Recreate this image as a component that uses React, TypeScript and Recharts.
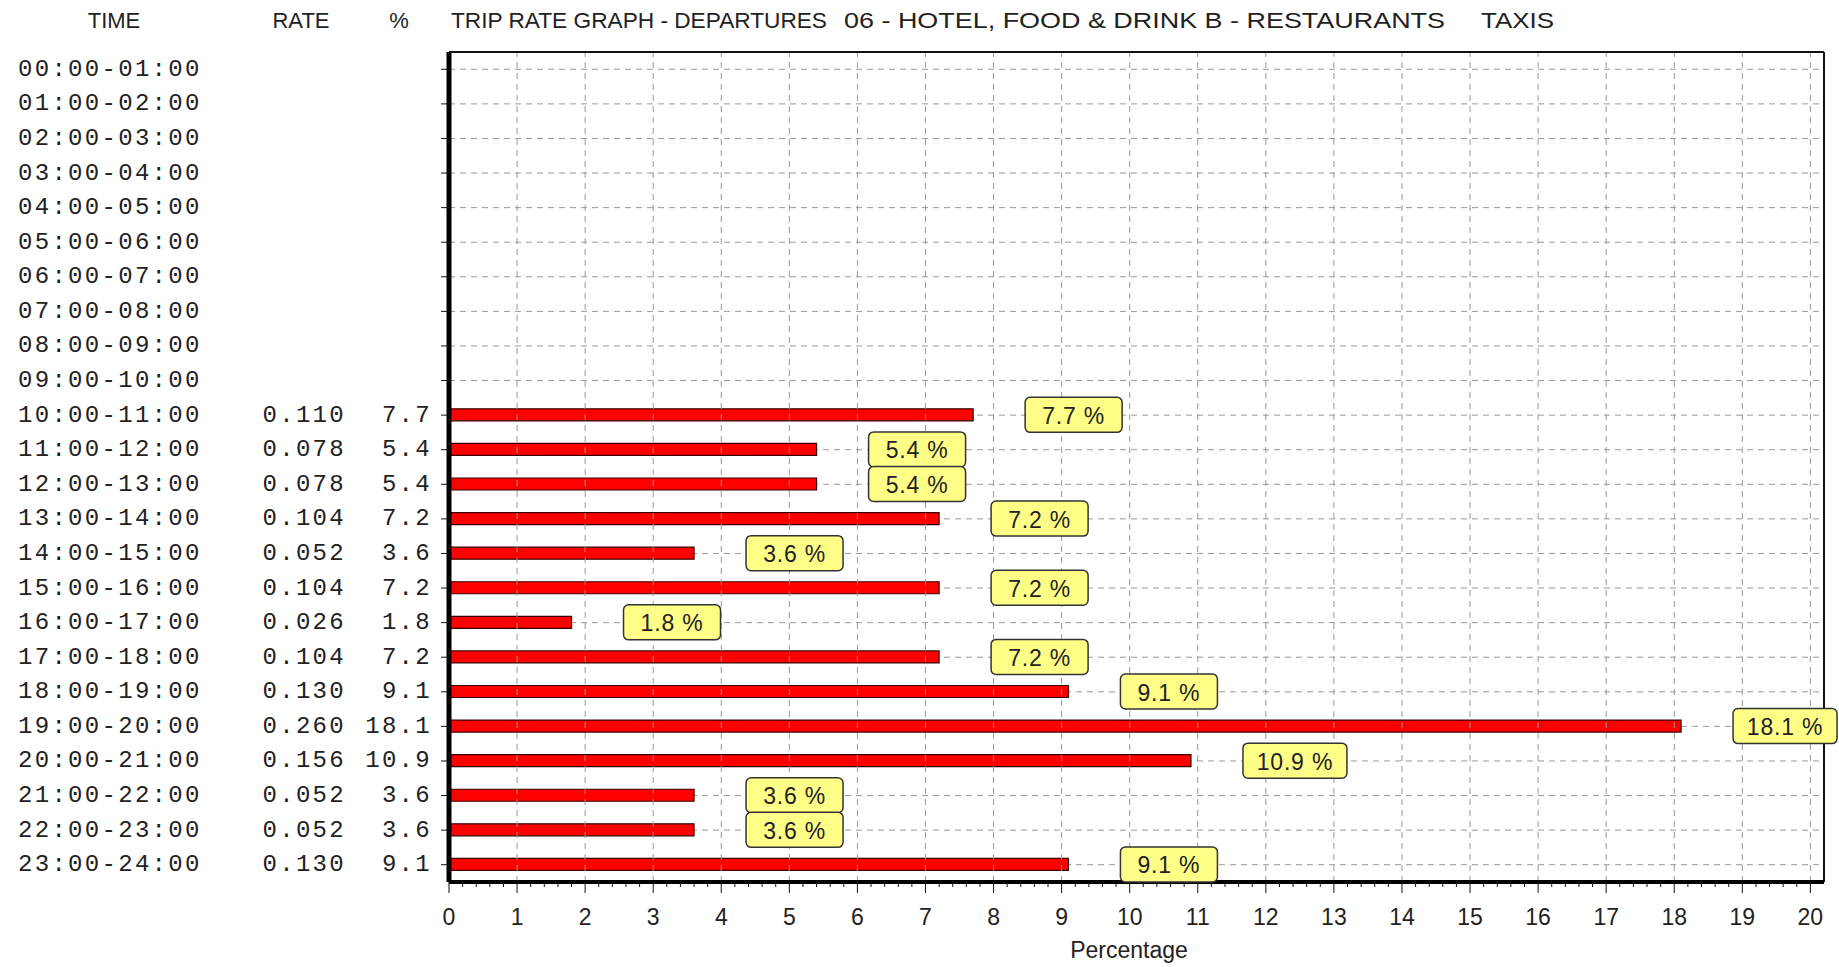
import React from 'react';
import { BarChart, Bar, XAxis, YAxis, CartesianGrid, ReferenceLine, LabelList } from 'recharts';

const times = [
  '00:00-01:00', '01:00-02:00', '02:00-03:00', '03:00-04:00', '04:00-05:00', '05:00-06:00',
  '06:00-07:00', '07:00-08:00', '08:00-09:00', '09:00-10:00', '10:00-11:00', '11:00-12:00',
  '12:00-13:00', '13:00-14:00', '14:00-15:00', '15:00-16:00', '16:00-17:00', '17:00-18:00',
  '18:00-19:00', '19:00-20:00', '20:00-21:00', '21:00-22:00', '22:00-23:00', '23:00-24:00',
];
const rates = [
  '', '', '', '', '', '', '', '', '', '',
  '0.110', '0.078', '0.078', '0.104', '0.052', '0.104', '0.026', '0.104', '0.130', '0.260', '0.156', '0.052', '0.052', '0.130',
];
const percents: (number | null)[] = [
  null, null, null, null, null, null, null, null, null, null,
  7.7, 5.4, 5.4, 7.2, 3.6, 7.2, 1.8, 7.2, 9.1, 18.1, 10.9, 3.6, 3.6, 9.1,
];
const xTicks = [0, 1, 2, 3, 4, 5, 6, 7, 8, 9, 10, 11, 12, 13, 14, 15, 16, 17, 18, 19, 20];
const xMax = 20.2;
const titleParts = [
  { text: 'TRIP RATE GRAPH - DEPARTURES', x: 451, w: 376 },
  { text: '06 - HOTEL, FOOD & DRINK  B - RESTAURANTS', x: 844, w: 601 },
  { text: 'TAXIS', x: 1481, w: 73 },
];
const headers = [
  { text: 'TIME', x: 114 },
  { text: 'RATE', x: 301 },
  { text: '%', x: 399 },
];

const data = times.map((t, i) => ({ time: t, rate: rates[i], pct: percents[i] }));
const minorTicks = xTicks.flatMap((v) =>
  v < 20 ? [0, 1, 2, 3, 4].map((k) => Math.round((v + k / 5) * 10) / 10) : [v]
);

const MONO = '"Liberation Mono", "DejaVu Sans Mono", monospace';
const SANS = '"Liberation Sans", Arial, sans-serif';
const NARROW = '"Liberation Sans Narrow", "Liberation Sans", sans-serif';
const TXT = '#222';

const YTick = (props: any) => {
  const { y, payload } = props;
  const row = data.find((d) => d.time === payload.value);
  if (!row) return null;
  return (
    <g>
      <text x={18} y={y} dominantBaseline="central" fontFamily={MONO} fontSize={24} letterSpacing={2.3} fill={TXT}>
        {row.time}
      </text>
      <text x={346} y={y} textAnchor="end" dominantBaseline="central" fontFamily={MONO} fontSize={24} letterSpacing={2.3} fill={TXT}>
        {row.rate}
      </text>
      <text x={432} y={y} textAnchor="end" dominantBaseline="central" fontFamily={MONO} fontSize={24} letterSpacing={2.3} fill={TXT}>
        {row.pct != null ? row.pct.toFixed(1) : ''}
      </text>
      <line x1={449} x2={441} y1={y} y2={y} stroke="#111" strokeWidth={1} />
    </g>
  );
};

const XTick = (props: any) => {
  const { x, y, payload } = props;
  const v = payload.value as number;
  const major = Math.abs(v - Math.round(v)) < 1e-6;
  return (
    <g>
      <line x1={x} x2={x} y1={y} y2={y + (major ? 11 : 5)} stroke="#111" strokeWidth={1} />
      {major && (
        <text x={x} y={y + 35} textAnchor="middle" dominantBaseline="central" fontFamily={NARROW} fontSize={23} fill={TXT}>
          {String(Math.round(v))}
        </text>
      )}
    </g>
  );
};

const BoxLabel = (props: any) => {
  const { x, y, width, height, value } = props;
  if (value == null || value === 0) return null;
  const wide = value >= 10;
  const bw = wide ? 104 : 97;
  const bx = x + width + 52;
  const cy = y + height / 2;
  return (
    <g>
      <rect x={bx} y={cy - 17.5} width={bw} height={35} rx={5} ry={5} fill="#ffff88" stroke="#333" strokeWidth={1.5} />
      <text x={bx + bw / 2} y={cy + 1} textAnchor="middle" dominantBaseline="central" fontFamily={SANS} fontSize={23} letterSpacing={0.8} fill={TXT}>
        {`${Number(value).toFixed(1)} %`}
      </text>
    </g>
  );
};

export default function App() {
  return (
    <div style={{ position: 'absolute', left: 0, top: 0, width: 1839, height: 967, background: '#fff' }}>
      <svg width={1839} height={967} style={{ position: 'absolute', left: 0, top: 0 }}>
        {titleParts.map((p) => (
          <text key={p.text} x={p.x} y={28} fontFamily={NARROW} fontSize={22} fill={TXT} textLength={p.w} lengthAdjust="spacingAndGlyphs">
            {p.text}
          </text>
        ))}
        {headers.map((h) => (
          <text key={h.text} x={h.x} y={28} textAnchor="middle" fontFamily={NARROW} fontSize={22} fill={TXT}>
            {h.text}
          </text>
        ))}
        <text x={1129} y={958} textAnchor="middle" fontFamily={NARROW} fontSize={23} fill={TXT}>
          Percentage
        </text>
      </svg>
      <div style={{ position: 'absolute', left: 0, top: 0 }}>
        <BarChart
          width={1839}
          height={967}
          data={data}
          layout="vertical"
          margin={{ top: 50, right: 15, bottom: 0, left: 9 }}
          barCategoryGap={0}
        >
          <CartesianGrid vertical={false} stroke="#999" strokeDasharray="6 5" />
          {xTicks.slice(1).map((t) => (
            <ReferenceLine key={t} x={t} stroke="#999" strokeDasharray="6 5" />
          ))}
          <ReferenceLine x={xMax} stroke="#111" strokeWidth={2} />
          <XAxis
            type="number"
            domain={[0, xMax]}
            ticks={minorTicks}
            interval={0}
            tick={<XTick />}
            tickLine={false}
            tickSize={0}
            tickMargin={0}
            height={85}
            axisLine={{ stroke: '#000', strokeWidth: 4 }}
            allowDecimals
          />
          <XAxis
            xAxisId="top"
            orientation="top"
            type="number"
            domain={[0, xMax]}
            tick={false}
            tickLine={false}
            height={2}
            axisLine={{ stroke: '#111', strokeWidth: 2 }}
          />
          <YAxis
            type="category"
            dataKey="time"
            width={440}
            interval={0}
            tick={<YTick />}
            tickLine={false}
            tickSize={0}
            axisLine={{ stroke: '#000', strokeWidth: 5 }}
          />
          <Bar dataKey="pct" barSize={12} fill="#ff0000" stroke="#3a0000" strokeWidth={1.2} isAnimationActive={false}>
            <LabelList dataKey="pct" content={<BoxLabel />} />
          </Bar>
        </BarChart>
      </div>
    </div>
  );
}
